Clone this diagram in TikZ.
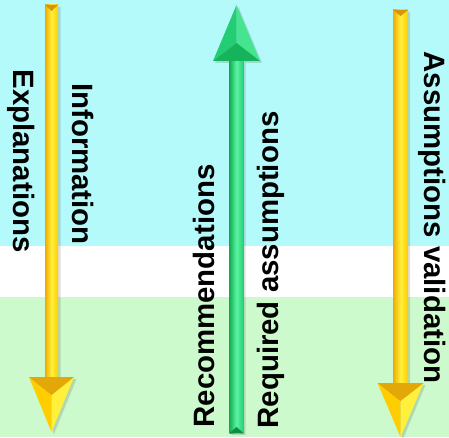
\documentclass[tikz,border=0pt]{standalone}
\usepackage{fontspec}
\setmainfont{Liberation Sans}
\definecolor{skycyan}{RGB}{180,250,250}
\definecolor{paleleaf}{RGB}{204,250,204}
\definecolor{golddark}{RGB}{240,170,0}
\definecolor{goldmid}{RGB}{255,205,0}
\definecolor{goldlight}{RGB}{255,240,60}
\definecolor{goldbevel}{RGB}{215,150,10}
\definecolor{grndark}{RGB}{20,175,85}
\definecolor{grnmid}{RGB}{35,205,115}
\definecolor{grnlight}{RGB}{90,245,160}
\definecolor{grnbevel}{RGB}{15,140,70}
\tikzset{
  lbl/.style={font=\fontsize{29.4}{34}\selectfont\bfseries, inner sep=0pt, text=black},
  shadowfill/.style={fill=black, opacity=0.13},
}
\begin{document}
\begin{tikzpicture}[x=1pt,y=1pt]
\useasboundingbox (0,0) rectangle (449,437);
% background bands
\fill[skycyan] (0,191) rectangle (449,437);
\fill[white] (0,140) rectangle (449,191);
\fill[paleleaf] (0,0) rectangle (449,140);

% ---------- left yellow arrow (down) ----------
\fill[shadowfill] (47.5,430) -- (60.5,430) -- (60.5,58) -- (76.5,58) -- (54,3) -- (31.5,58) -- (47.5,58) -- cycle;
\shade[left color=golddark, right color=goldmid, middle color=goldlight] (45,432) rectangle (58,58);
\fill[goldbevel] (45,432) -- (58,432) -- (51.5,426) -- cycle;
\fill[goldmid] (29,60) -- (51.5,42) -- (51.5,5) -- cycle;
\fill[goldlight] (74,60) -- (51.5,42) -- (51.5,5) -- cycle;
\fill[goldbevel!70!goldmid] (29,60) -- (74,60) -- (51.5,42) -- cycle;

% ---------- green arrow (up) ----------
\fill[shadowfill] (231.5,2) -- (245.5,2) -- (245.5,374) -- (262,374) -- (238.5,430) -- (215,374) -- (231.5,374) -- cycle;
\shade[left color=grndark, right color=grnmid, middle color=grnlight] (229.5,4) rectangle (243.5,378);
\fill[grnbevel] (229.5,4) -- (243.5,4) -- (236.5,10) -- cycle;
\fill[grnmid] (213,376) -- (236.5,394) -- (236.5,432) -- cycle;
\fill[grnlight!60!grnmid] (260,376) -- (236.5,394) -- (236.5,432) -- cycle;
\fill[grndark!85!grnmid] (213,376) -- (260,376) -- (236.5,394) -- cycle;

% ---------- right yellow arrow (down) ----------
\fill[shadowfill] (395,425) -- (410,425) -- (410,52) -- (425.5,52) -- (403,-2) -- (379.5,52) -- (395,52) -- cycle;
\shade[left color=golddark, right color=goldmid, middle color=goldlight] (393,427) rectangle (408,52);
\fill[goldbevel] (393,427) -- (408,427) -- (400.5,421) -- cycle;
\fill[goldmid] (377.5,54) -- (400.5,36) -- (400.5,0) -- cycle;
\fill[goldlight] (423.5,54) -- (400.5,36) -- (400.5,0) -- cycle;
\fill[goldbevel!70!goldmid] (377.5,54) -- (423.5,54) -- (400.5,36) -- cycle;

% ---------- labels ----------
\node[lbl, rotate=-90, anchor=base] (expl) at (13,276) {Explanations};
\node[lbl, rotate=-90, anchor=base] (info) at (72,273) {Information};
\node[lbl, rotate=90, anchor=base] (reco) at (214,141) {Recommendations};
\node[lbl, rotate=90, anchor=base] (reqa) at (278,167) {Required assumptions};
\node[lbl, rotate=-90, anchor=base] (asva) at (424,219.5) {Assumptions validation};
\end{tikzpicture}
\end{document}
